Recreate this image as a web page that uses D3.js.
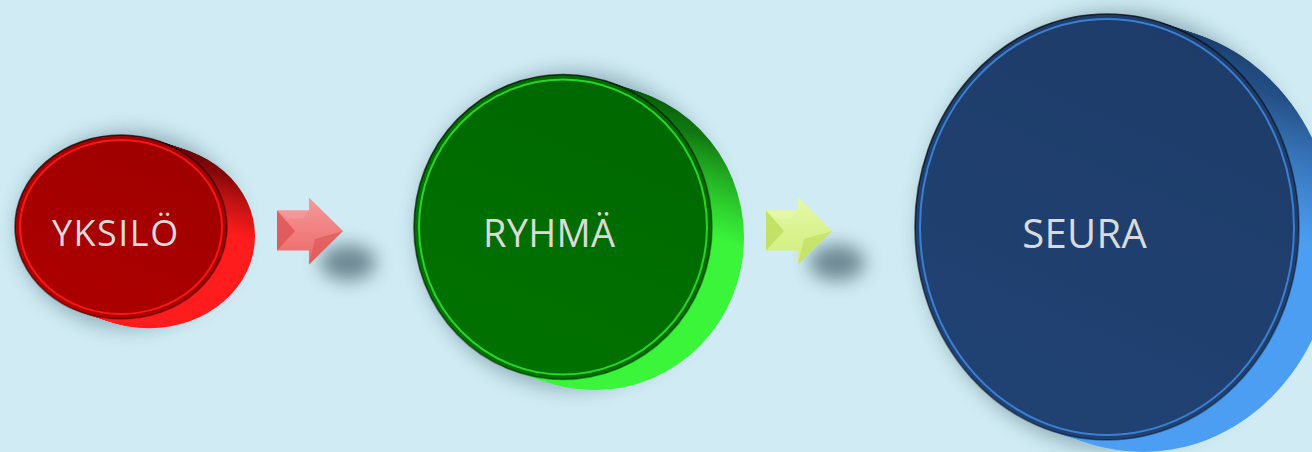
<!doctype html>
<html>
<head>
<meta charset="utf-8" />
<script src="https://d3js.org/d3.v7.min.js"></script>
<style>
  html, body { margin: 0; padding: 0; background: #d0ebf3; }
  svg { display: block; }
</style>
</head>
<body>
<script>
// step labels and their relative size (1 = smallest)
var labels = ["YKSILÖ", "RYHMÄ", "SEURA"];
var levels = [1, 2, 3];

// styles per disc
var faceColors = ["#a60000", "#006d00", "#1f3f6e"];
var rimColors  = ["#ff1a1a", "#2ee02e", "#3f86dc"];
var sideDark   = ["#500000", "#004400", "#132f58"];
var sideLight  = ["#ff1c1c", "#3af53a", "#4c9ef2"];
var arrowColors = [["#ee6666", "#f59a9a", "#dc5454"], ["#d0ee78", "#e4f8a8", "#bcdc5c"]];

var W = 1312, H = 452;
var svg = d3.select("body").append("svg").attr("width", W).attr("height", H);
var defs = svg.append("defs");

var rxScale = d3.scaleLinear().domain([1, 3]).range([106, 192]);
var ryScale = d3.scaleLinear().domain([1, 3]).range([92, 213]);
var depthScale = d3.scaleLinear().domain([1, 3]).range([28, 36]);
var fontScale = d3.scaleLinear().domain([1, 3]).range([36, 40]);
var gapScale = d3.scaleLinear().domain([1, 2]).range([71, 83]);

var cy = 227, arrowW = 66, arrowH = 67;

// layout: discs left to right, arrow after each but the last
var discs = [], arrows = [];
var left = 15;
levels.forEach(function(v, i) {
  var rx = rxScale(v), ry = ryScale(v), dx = depthScale(v);
  discs.push({label: labels[i], i: i, cx: left + rx, cy: cy, rx: rx, ry: ry, dx: dx, dy: dx * 0.33, fs: fontScale(v)});
  var outer = left + 2 * rx + dx;
  if (i < levels.length - 1) {
    var ax = outer + 22;
    arrows.push({x: ax, y: 231 - arrowH / 2, i: i});
    left = ax + arrowW + gapScale(v);
  }
});

// filters
var blur = defs.append("filter").attr("id", "blur").attr("x", "-50%").attr("y", "-50%").attr("width", "200%").attr("height", "200%");
blur.append("feGaussianBlur").attr("stdDeviation", 10);
var blur2 = defs.append("filter").attr("id", "blur2").attr("x", "-80%").attr("y", "-80%").attr("width", "260%").attr("height", "260%");
blur2.append("feGaussianBlur").attr("stdDeviation", 9);

discs.forEach(function(d) {
  var g = defs.append("linearGradient").attr("id", "side" + d.i)
    .attr("x1", 0.3).attr("y1", 0).attr("x2", 0.7).attr("y2", 1);
  g.append("stop").attr("offset", "0%").attr("stop-color", sideDark[d.i]);
  g.append("stop").attr("offset", "35%").attr("stop-color", d3.interpolateRgb(sideDark[d.i], sideLight[d.i])(0.3));
  g.append("stop").attr("offset", "70%").attr("stop-color", sideLight[d.i]);
  g.append("stop").attr("offset", "100%").attr("stop-color", sideLight[d.i]);

  var e = defs.append("linearGradient").attr("id", "edge" + d.i)
    .attr("x1", 0.2).attr("y1", 0).attr("x2", 0.8).attr("y2", 1);
  e.append("stop").attr("offset", "0%").attr("stop-color", "#000").attr("stop-opacity", 0.75);
  e.append("stop").attr("offset", "60%").attr("stop-color", "#000").attr("stop-opacity", 0.45);
  e.append("stop").attr("offset", "100%").attr("stop-color", "#000").attr("stop-opacity", 0.35);

  var f = defs.append("linearGradient").attr("id", "face" + d.i)
    .attr("x1", 0.7).attr("y1", 0).attr("x2", 0.3).attr("y2", 1);
  f.append("stop").attr("offset", "0%").attr("stop-color", d3.color(faceColors[d.i]).darker(0.12));
  f.append("stop").attr("offset", "100%").attr("stop-color", d3.color(faceColors[d.i]).brighter(0.12));
});

arrows.forEach(function(a) {
  var c = arrowColors[a.i];
  var g = defs.append("linearGradient").attr("id", "arr" + a.i).attr("x1", 0).attr("y1", 0).attr("x2", 0).attr("y2", 1);
  g.append("stop").attr("offset", "0%").attr("stop-color", c[1]);
  g.append("stop").attr("offset", "100%").attr("stop-color", c[0]);
});

// disc shadows
svg.append("g").selectAll("ellipse").data(discs).join("ellipse")
  .attr("cx", d => d.cx + d.dx * 0.3)
  .attr("cy", d => d.cy + d.dy * 0.3)
  .attr("rx", d => d.rx + 6)
  .attr("ry", d => d.ry + 6)
  .attr("fill", "#3b6070")
  .attr("opacity", 0.45)
  .attr("filter", "url(#blur)");

// arrow shadows
svg.append("g").selectAll("ellipse").data(arrows).join("ellipse")
  .attr("cx", a => a.x + arrowW + 5)
  .attr("cy", a => a.y + arrowH - 2)
  .attr("rx", 28)
  .attr("ry", 18)
  .attr("fill", "#2f4a55")
  .attr("opacity", 0.6)
  .attr("filter", "url(#blur2)");

// discs
var disc = svg.append("g").selectAll("g").data(discs).join("g");

// extruded side, swept from face to back
disc.each(function(d) {
  var steps = d3.range(14, 0, -1);
  d3.select(this).selectAll("ellipse.side").data(steps).join("ellipse")
    .attr("class", "side")
    .attr("cx", s => d.cx + d.dx * s / 14)
    .attr("cy", s => d.cy + d.dy * s / 14)
    .attr("rx", d.rx)
    .attr("ry", d.ry)
    .attr("fill", "url(#side" + d.i + ")");
});

// face
disc.append("ellipse")
  .attr("cx", d => d.cx).attr("cy", d => d.cy)
  .attr("rx", d => d.rx).attr("ry", d => d.ry)
  .attr("fill", d => "url(#face" + d.i + ")");

// bright rim line
disc.append("ellipse")
  .attr("cx", d => d.cx).attr("cy", d => d.cy)
  .attr("rx", d => d.rx - 5).attr("ry", d => d.ry - 5)
  .attr("fill", "none")
  .attr("stroke", d => rimColors[d.i])
  .attr("stroke-width", 2)
  .attr("opacity", 0.9);

// dark outer edge
disc.append("ellipse")
  .attr("cx", d => d.cx).attr("cy", d => d.cy)
  .attr("rx", d => d.rx).attr("ry", d => d.ry)
  .attr("fill", "none")
  .attr("stroke", d => "url(#edge" + d.i + ")")
  .attr("stroke-width", 1.6);

// labels
disc.append("text")
  .attr("x", d => d.cx - (d.rx - 80) * 0.2)
  .attr("y", d => d.cy + 5)
  .attr("text-anchor", "middle")
  .attr("dominant-baseline", "central")
  .attr("font-family", "'Open Sans', 'Noto Sans', sans-serif")
  .attr("font-size", d => d.fs)
  .attr("letter-spacing", d => d.i === 0 ? 1.5 : 0.3)
  .attr("fill", "#dadada")
  .text(d => d.label);

// arrows
var arrow = svg.append("g").selectAll("g").data(arrows).join("g")
  .attr("transform", a => "translate(" + a.x + "," + a.y + ")");

var bodyTop = 13, bodyBot = 53, neck = 32, tipY = arrowH / 2;
arrow.append("path")
  .attr("d", "M0," + bodyTop + "H" + neck + "V0L" + arrowW + "," + tipY + "L" + neck + "," + arrowH + "V" + bodyBot + "H0Z")
  .attr("fill", a => "url(#arr" + a.i + ")");
// darker left bevel
arrow.append("path")
  .attr("d", "M0," + bodyTop + "L18," + tipY + "L0," + bodyBot + "Z")
  .attr("fill", a => arrowColors[a.i][2])
  .attr("opacity", 0.8);
// lighter upper bevel of the body
arrow.append("path")
  .attr("d", "M0," + bodyTop + "H" + neck + "L" + (neck - 6) + "," + (bodyTop + 8) + "H10Z")
  .attr("fill", a => arrowColors[a.i][1])
  .attr("opacity", 0.8);
// darker lower head facet
arrow.append("path")
  .attr("d", "M" + neck + "," + arrowH + "L" + arrowW + "," + tipY + "L" + (neck + 6) + "," + (tipY + 8) + "Z")
  .attr("fill", a => arrowColors[a.i][2])
  .attr("opacity", 0.6);
</script>
</body>
</html>
